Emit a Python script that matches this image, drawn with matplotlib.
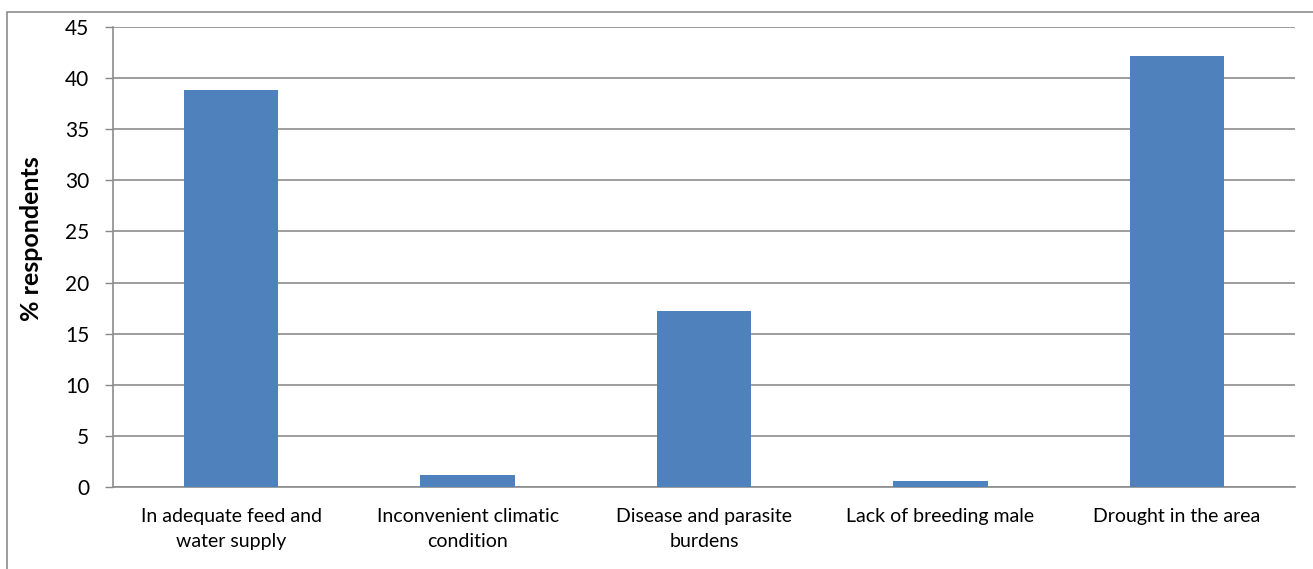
import matplotlib.pyplot as plt
from matplotlib.patches import Rectangle

categories = [
    "In adequate feed and\nwater supply",
    "Inconvenient climatic\ncondition",
    "Disease and parasite\nburdens",
    "Lack of breeding male",
    "Drought in the area",
]
values = [38.9, 1.1, 17.2, 0.6, 42.2]
y_ticks = [0, 5, 10, 15, 20, 25, 30, 35, 40, 45]

plt.rcParams['font.family'] = ['Lato', 'DejaVu Sans']

W, H = 1313, 569
fig = plt.figure(figsize=(W / 100, H / 100), dpi=100)
ax = fig.add_axes([113 / W, 1 - 486.7 / H, (1295 - 113) / W, (486.7 - 27.3) / H])

x = list(range(len(categories)))
ax.bar(x, values, width=0.40, color='#4f81bd', zorder=3)

ax.set_xlim(-0.5, len(categories) - 0.5)
ax.set_ylim(0, 45)
ax.set_yticks(y_ticks)
ax.set_xticks(x)
ax.set_xticklabels(categories, fontsize=14, linespacing=1.6)
ax.tick_params(axis='x', length=0, pad=15)
ax.tick_params(axis='y', length=6, width=1, color='#888888', labelsize=15, pad=11)

ax.grid(axis='y', color='#8c8c8c', linewidth=1.2, zorder=0)
for side in ['top', 'right']:
    ax.spines[side].set_visible(False)
for side in ['left', 'bottom']:
    ax.spines[side].set_color('#8c8c8c')
    ax.spines[side].set_linewidth(1.2)

fig.text(32 / W, 1 - 239 / H, '% respondents', rotation=90, ha='center',
         va='center', fontsize=18, fontweight='bold')

# outer chart frame
fig.patches.append(Rectangle((7 / W, -0.1), 1.2, 1 - 12 / H + 0.1,
                             transform=fig.transFigure, fill=False,
                             edgecolor='#8c8c8c', linewidth=1.2))

fig.savefig('out.png', dpi=100)
